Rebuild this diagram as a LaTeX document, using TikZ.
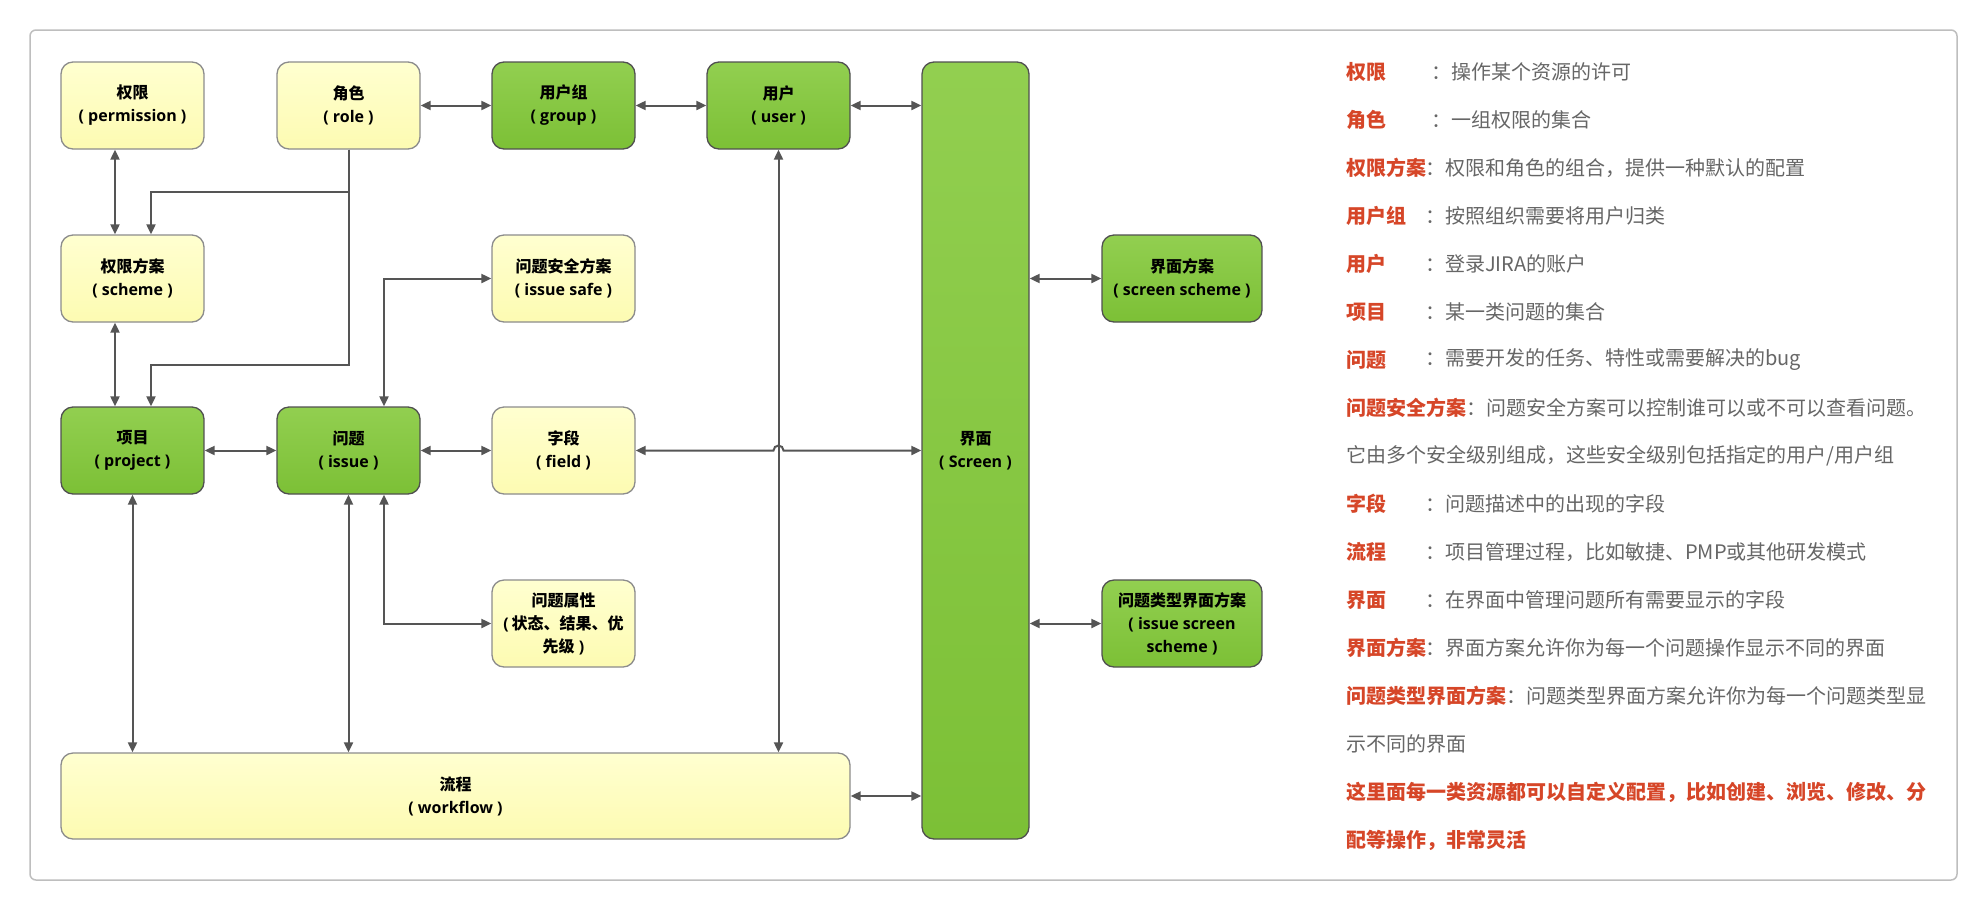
\documentclass[tikz,border=0pt]{standalone}
\usepackage{fontspec}
\setmainfont{Noto Sans CJK SC}
\newfontfamily\latf{Open Sans}
\usetikzlibrary{arrows.meta,calc}
\definecolor{lbl}{RGB}{214,70,40}
\definecolor{dsctext}{RGB}{102,102,102}
\definecolor{conn}{RGB}{85,85,85}
\definecolor{ytop}{RGB}{255,255,208}
\definecolor{ybot}{RGB}{253,251,178}
\definecolor{gtop}{RGB}{146,207,80}
\definecolor{gbot}{RGB}{124,192,54}
\definecolor{yline}{RGB}{140,140,140}
\definecolor{gline}{RGB}{80,80,80}
\definecolor{framecol}{RGB}{190,190,190}
\newcommand{\lt}[1]{{\latf #1}}
\begin{document}
\begin{tikzpicture}[x=1pt,y=-1pt,
  >={Triangle[length=10pt,width=9pt]},
  box/.style={rectangle, rounded corners=12pt, line width=1.3pt, inner sep=0pt, align=center,
    font=\fontsize{16}{23}\selectfont\bfseries, text=black},
  ybox/.style={box, draw=yline, top color=ytop, bottom color=ybot},
  gbox/.style={box, draw=gline, top color=gtop, bottom color=gbot},
  std/.style={minimum width=143pt, minimum height=87pt},
  wide/.style={minimum width=160pt, minimum height=87pt},
  link/.style={draw=conn, line width=2pt},
  lab/.style={anchor=west, inner sep=0pt, font=\fontsize{20}{24}\selectfont\bfseries, text=lbl},
  dsc/.style={anchor=west, inner sep=0pt, font=\fontsize{20}{24}\selectfont, text=dsctext}
]
\fill[white] (0,0) rectangle (1988,911);
\useasboundingbox (0,0) rectangle (1988,911);
\draw[framecol, line width=1.5pt, rounded corners=6pt] (30,30) rectangle (1957,880);

% boxes
\node[ybox, std] (perm)   at (132.5,105.5) {权限\\\lt{( permission )}};
\node[ybox, std] (role)   at (348.5,105.5) {角色\\\lt{( role )}};
\node[gbox, std] (group)  at (563.5,105.5) {用户组\\\lt{( group )}};
\node[gbox, std] (user)   at (778.5,105.5) {用户\\\lt{( user )}};
\node[gbox, minimum width=107pt, minimum height=777pt] (screen) at (975.5,450.5) {界面\\\lt{( Screen )}};
\node[ybox, std] (scheme) at (132.5,278.5) {权限方案\\\lt{( scheme )}};
\node[ybox, std] (safe)   at (563.5,278.5) {问题安全方案\\\lt{( issue safe )}};
\node[gbox, wide] (sscheme) at (1182,278.5) {界面方案\\\lt{( screen scheme )}};
\node[gbox, std] (proj)   at (132.5,450.5) {项目\\\lt{( project )}};
\node[gbox, std] (issue)  at (348.5,450.5) {问题\\\lt{( issue )}};
\node[ybox, std] (field)  at (563.5,450.5) {字段\\\lt{( field )}};
\node[ybox, std] (attr)   at (563.5,623.5) {问题属性\\\lt{(\,}状态、结果、优\\先级\lt{\ )}};
\node[gbox, wide] (ist)   at (1182,623.5) {问题类型界面方案\\\lt{( issue screen}\\\lt{scheme )}};
\node[ybox, minimum width=789pt, minimum height=86pt] (flow) at (455.5,796) {流程\\\lt{( workflow )}};

% connectors
\draw[link,<->] ([xshift=-17.5pt]perm.south) -- ([xshift=-17.5pt]scheme.north);
\draw[link,<->] ([xshift=-17.5pt]scheme.south) -- ([xshift=-17.5pt]proj.north);
\draw[link,->] (role.south) -- ++(0,42) -| ([xshift=18.5pt]scheme.north);
\draw[link,->] (role.south) -- ++(0,215) -| ([xshift=18.5pt]proj.north);
\draw[link,<->] (role.east) -- (group.west);
\draw[link,<->] (group.east) -- (user.west);
\draw[link,<->] (user.east) -- (screen.west |- user.east);
\draw[link,<->] ([xshift=35.5pt]issue.north) |- (safe.west);
\draw[link,<->] ([xshift=35.5pt]issue.south) |- (attr.west);
\draw[link,<->] (proj.east) -- (issue.west);
\draw[link,<->] (issue.east) -- (field.west);
\draw[link,<->] (screen.west |- field.east) -- ($(user.south |- field.east)+(5,0)$)
   arc[start angle=0, end angle=180, radius=5pt] -- (field.east);
\draw[link,<->] (proj.south) -- (proj.south |- flow.north);
\draw[link,<->] (issue.south) -- (issue.south |- flow.north);
\draw[link,<->] (user.south) -- (user.south |- flow.north);
\draw[link,<->] (flow.east) -- (screen.west |- flow.east);
\draw[link,<->] (screen.east |- sscheme.west) -- (sscheme.west);
\draw[link,<->] (screen.east |- ist.west) -- (ist.west);

% legend text
\node[lab] (l1) at (1346,72) {权限};
\node[dsc] (d1) at (1431,72) {：操作某个资源的许可};
\node[lab] (l2) at (1346,120) {角色};
\node[dsc] (d2) at (1431,120) {：一组权限的集合};
\node[lab] (l3) at (1346,168) {权限方案};
\node[dsc] (d3) at (1425,168) {：权限和角色的组合，提供一种默认的配置};
\node[lab] (l4) at (1346,216) {用户组};
\node[dsc] (d4) at (1425,216) {：按照组织需要将用户归类};
\node[lab] (l5) at (1346,264) {用户};
\node[dsc] (d5) at (1425,264) {：登录JIRA的账户};
\node[lab] (l6) at (1346,312) {项目};
\node[dsc] (d6) at (1425,312) {：某一类问题的集合};
\node[lab] (l7) at (1346,360) {问题};
\node[dsc] (d7) at (1425,360) {：需要开发的任务、特性或需要解决的bug};
\node[lab] (l8) at (1346,408) {问题安全方案};
\node[dsc] (d8) at (1466,408) {：问题安全方案可以控制谁可以或不可以查看问题。};
\node[dsc] (d8b) at (1346,456) {它由多个安全级别组成，这些安全级别包括指定的用户/用户组};
\node[lab] (l9) at (1346,504) {字段};
\node[dsc] (d9) at (1425,504) {：问题描述中的出现的字段};
\node[lab] (l10) at (1346,552) {流程};
\node[dsc] (d10) at (1425,552) {：项目管理过程，比如敏捷、PMP或其他研发模式};
\node[lab] (l11) at (1346,600) {界面};
\node[dsc] (d11) at (1425,600) {：在界面中管理问题所有需要显示的字段};
\node[lab] (l12) at (1346,648) {界面方案};
\node[dsc] (d12) at (1425,648) {：界面方案允许你为每一个问题操作显示不同的界面};
\node[lab] (l13) at (1346,696) {问题类型界面方案};
\node[dsc] (d13) at (1506,696) {：问题类型界面方案允许你为每一个问题类型显};
\node[dsc] (d13b) at (1346,744) {示不同的界面};
\node[lab] (l14) at (1346,792) {这里面每一类资源都可以自定义配置，比如创建、浏览、修改、分};
\node[lab] (l15) at (1346,840) {配等操作，非常灵活};
\end{tikzpicture}
\end{document}
